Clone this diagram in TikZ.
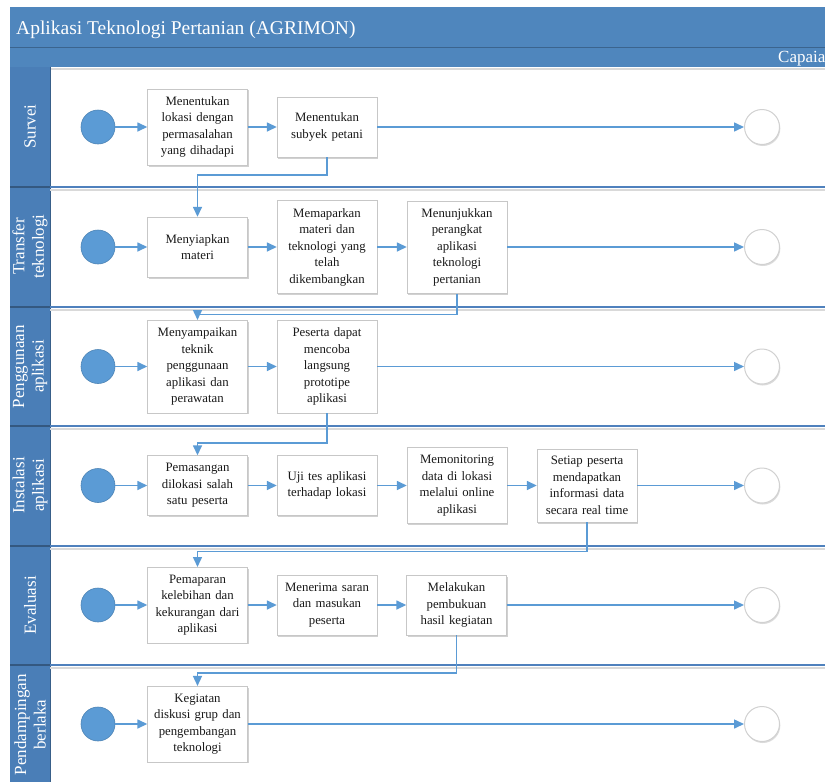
\documentclass[tikz,border=0pt]{standalone}
\usepackage{fontspec}
\setmainfont{Liberation Serif}
\usetikzlibrary{arrows.meta,shadows}
\definecolor{headblue}{HTML}{4F86BD}
\definecolor{colblue}{HTML}{4A7EB7}
\definecolor{flowblue}{HTML}{5B9BD5}
\definecolor{lineblue}{HTML}{4F81BD}
\begin{document}
\begin{tikzpicture}[x=1pt,y=-1pt,
  box/.style={draw=black!22,fill=white,
    drop shadow={shadow xshift=1.2pt,shadow yshift=-1.5pt,fill=black!40,opacity=0.45},
    minimum width=100pt,minimum height=60pt,text width=92pt,align=center,
    inner ysep=7.5pt,font=\fontsize{12.8}{16.5}\selectfont,text=black!90},
  startev/.style={circle,fill=flowblue,draw=flowblue!85!black,line width=0.6pt,minimum size=34pt,inner sep=0pt},
  endev/.style={circle,fill=white,draw=black!18,line width=1pt,minimum size=35pt,inner sep=0pt,
    drop shadow={shadow xshift=0.8pt,shadow yshift=-1.5pt,fill=black!35,opacity=0.4}},
  flow/.style={draw=flowblue,line width=1.5pt,-{Triangle[length=10pt,width=9pt]}},
  lanelabel/.style={rotate=90,text=white,align=center,font=\fontsize{17}{19.5}\selectfont}]
\useasboundingbox (0,0) rectangle (825,782);
\clip (0,0) rectangle (825,782);
\fill[white] (0,0) rectangle (825,782);

% header
\fill[headblue] (10,7) rectangle (840,67);
\draw[headblue!75!black,line width=0.8pt] (10,47) -- (840,47);
\draw[black!15,line width=2pt] (10,69) -- (840,69);
\node[anchor=base west,inner sep=0pt,text=white,font=\fontsize{19.5}{22}\selectfont] (title) at (16,34) {Aplikasi Teknologi Pertanian (AGRIMON)};
\node[anchor=base west,inner sep=0pt,text=white,font=\fontsize{17}{20}\selectfont] (capaian) at (778,62) {Capaia};

% lanes
\fill[colblue] (10,67) rectangle (50,790);
\draw[colblue!75!black,line width=0.8pt] (50,67) -- (50,790);
\foreach \ytop/\lab [count=\i] in {67/Survei,187/{Transfer\\teknologi},307/{Penggunaan\\aplikasi},426/{Instalasi\\aplikasi},546/Evaluasi,665/{Pendampingan\\berlaka}}{
  \ifnum\i>1
    \draw[black!15,line width=2pt] (50,\ytop+2.5) -- (840,\ytop+2.5);
    \draw[lineblue,line width=1.3pt] (50,\ytop) -- (840,\ytop);
    \draw[colblue!70!black,line width=1.3pt] (10,\ytop) -- (50,\ytop);
  \fi
  \node[lanelabel] (lane\i) at (30,\ytop+59.5) {\lab};
}

% Survei
\node[startev] (s1) at (98,127) {};
\node[box] (b11) at (197.5,127) {Menentukan\\lokasi dengan\\permasalahan\\yang dihadapi};
\node[box] (b12) at (327,127) {Menentukan\\subyek petani};
\node[endev] (e1) at (762,127) {};
\draw[flow] (s1) -- (b11);
\draw[flow] (b11) -- (b12);
\draw[flow] (b12) -- (e1);

% Transfer teknologi
\node[startev] (s2) at (98,247) {};
\node[box] (b21) at (197.5,247) {Menyiapkan\\materi};
\node[box] (b22) at (327,247) {Memaparkan\\materi dan\\teknologi yang\\telah\\dikembangkan};
\node[box] (b23) at (457,247) {Menunjukkan\\perangkat\\aplikasi\\teknologi\\pertanian};
\node[endev] (e2) at (762,247) {};
\draw[flow] (s2) -- (b21);
\draw[flow] (b21) -- (b22);
\draw[flow] (b22) -- (b23);
\draw[flow] (b23) -- (e2);

% Penggunaan aplikasi
\node[startev] (s3) at (98,366.5) {};
\node[box] (b31) at (197.5,366.5) {Menyampaikan\\teknik\\penggunaan\\aplikasi dan\\perawatan};
\node[box] (b32) at (327,366.5) {Peserta dapat\\mencoba\\langsung\\prototipe\\aplikasi};
\node[endev] (e3) at (762,366.5) {};
\draw[flow] (s3) -- (b31);
\draw[flow] (b31) -- (b32);
\draw[flow] (b32) -- (e3);

% Instalasi aplikasi
\node[startev] (s4) at (98,485.5) {};
\node[box] (b41) at (197.5,485.5) {Pemasangan\\dilokasi salah\\satu peserta};
\node[box] (b42) at (327,485.5) {Uji tes aplikasi\\terhadap lokasi};
\node[box] (b43) at (457,485.5) {Memonitoring\\data di lokasi\\melalui online\\aplikasi};
\node[box] (b44) at (587,485.5) {Setiap peserta\\mendapatkan\\informasi data\\secara real time};
\node[endev] (e4) at (762,485.5) {};
\draw[flow] (s4) -- (b41);
\draw[flow] (b41) -- (b42);
\draw[flow] (b42) -- (b43);
\draw[flow] (b43) -- (b44);
\draw[flow] (b44) -- (e4);

% Evaluasi
\node[startev] (s5) at (98,605) {};
\node[box] (b51) at (197.5,605) {Pemaparan\\kelebihan dan\\kekurangan dari\\aplikasi};
\node[box] (b52) at (327,605) {Menerima saran\\dan masukan\\peserta};
\node[box] (b53) at (456.5,605) {Melakukan\\pembukuan\\hasil kegiatan};
\node[endev] (e5) at (762,605) {};
\draw[flow] (s5) -- (b51);
\draw[flow] (b51) -- (b52);
\draw[flow] (b52) -- (b53);
\draw[flow] (b53) -- (e5);

% Pendampingan berlaka
\node[startev] (s6) at (98,724) {};
\node[box] (b61) at (197.5,724) {Kegiatan\\diskusi grup dan\\pengembangan\\teknologi};
\node[endev] (e6) at (762,724) {};
\draw[flow] (s6) -- (b61);
\draw[flow] (b61) -- (e6);

% between lanes
\draw[flow] (b12.south) -- ++(0,18) -| (b21.north);
\draw[flow] (b23.south) -- ++(0,21) -| (b31.north);
\draw[flow] (b32.south) -- ++(0,30) -| (b41.north);
\draw[flow] (b44.south) -- ++(0,29) -| (b51.north);
\draw[flow] (b53.south) -- ++(0,38) -| (b61.north);
\end{tikzpicture}
\end{document}
